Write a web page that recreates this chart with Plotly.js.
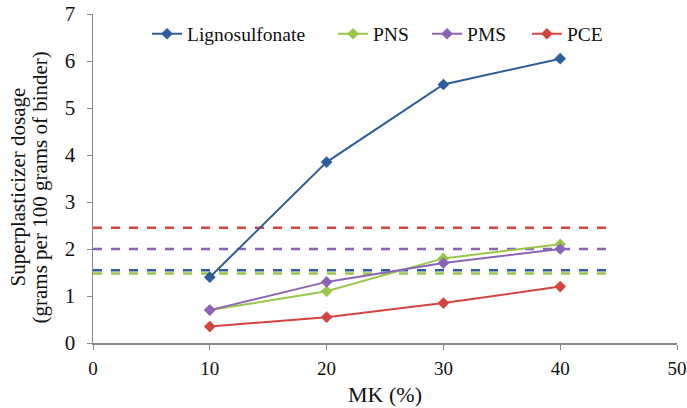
<!DOCTYPE html>
<html>
<head>
<meta charset="utf-8">
<script src="https://cdn.plot.ly/plotly-3.0.1.min.js"></script>
<style>html,body{margin:0;padding:0;background:#fff;}#chart{width:687px;height:408px;}</style>
</head>
<body>
<div id="chart"></div>
<script>
const mk = [10, 20, 30, 40];
const lignosulfonate = [1.4, 3.85, 5.5, 6.05];
const pns = [0.7, 1.1, 1.8, 2.1];
const pms = [0.7, 1.3, 1.7, 2.0];
const pce = [0.35, 0.55, 0.85, 1.2];
const refX = [0, 44];
const refLigno = [1.55, 1.55];
const refPns = [1.48, 1.48];
const refPms = [2.0, 2.0];
const refPce = [2.45, 2.45];
const yTitle1 = 'Superplasticizer dosage';
const yTitle2 = '(grams per 100 grams of binder)';
const xTitle = 'MK (%)';

const cBlue = '#2F5C9A', cGreen = '#9AC64C', cPurple = '#8C64B6', cRed = '#D4453F';
const font = "'Liberation Serif', 'Times New Roman', serif";

function dashed(y, c) {
  return {x: refX, y: y, mode: 'lines', line: {color: c, width: 2.5, dash: 'dash'}, showlegend: false, hoverinfo: 'skip'};
}
function series(y, name, c, lg) {
  return {x: mk, y: y, name: name, mode: 'lines+markers', legend: lg,
    line: {color: c, width: 2}, marker: {symbol: 'diamond', size: 9, color: c}};
}

const data = [
  dashed(refPns, cGreen),
  dashed(refLigno, cBlue),
  dashed(refPms, cPurple),
  dashed(refPce, cRed),
  series(lignosulfonate, 'Lignosulfonate', cBlue, 'legend'),
  series(pns, 'PNS', cGreen, 'legend2'),
  series(pms, 'PMS', cPurple, 'legend3'),
  series(pce, 'PCE', cRed, 'legend4')
];

function lg(x) {
  return {x: x, y: 0.939, xanchor: 'left', yanchor: 'middle', bgcolor: 'rgba(0,0,0,0)',
    font: {family: font, size: 19.5, color: '#111'}, itemwidth: 30, orientation: 'h'};
}

const layout = {
  width: 687, height: 408,
  margin: {l: 93, r: 10, t: 14, b: 65},
  paper_bgcolor: '#fff', plot_bgcolor: '#fff',
  font: {family: font, color: '#111'},
  xaxis: {range: [0, 50], tickvals: [0, 10, 20, 30, 40, 50], showgrid: false, zeroline: false,
    showline: true, linecolor: '#888', linewidth: 1.5, ticks: 'outside', ticklen: 5, tickcolor: '#888',
    ticklabelstandoff: 3, ticklabeloverflow: 'allow',
    tickfont: {family: font, size: 19, color: '#111'},
    title: {text: xTitle, font: {family: font, size: 22, color: '#111'}, standoff: 8}},
  yaxis: {range: [0, 7], dtick: 1, showgrid: false, zeroline: false,
    showline: true, linecolor: '#888', linewidth: 1.5, ticks: 'outside', ticklen: 5, tickcolor: '#888',
    ticklabelstandoff: 7,
    tickfont: {family: font, size: 21, color: '#111'}},
  annotations: [
    {text: yTitle1, xref: 'paper', yref: 'paper', x: -0.1284, y: 0.4726, xanchor: 'center', yanchor: 'middle',
      textangle: -90, showarrow: false, font: {family: font, size: 21, color: '#111'}},
    {text: yTitle2, xref: 'paper', yref: 'paper', x: -0.0908, y: 0.4726, xanchor: 'center', yanchor: 'middle',
      textangle: -90, showarrow: false, font: {family: font, size: 21, color: '#111'}}
  ],
  legend: lg(0.0925),
  legend2: lg(0.411),
  legend3: lg(0.572),
  legend4: lg(0.743),
  showlegend: true
};

Plotly.newPlot('chart', data, layout, {displayModeBar: false, staticPlot: true});
</script>
</body>
</html>
